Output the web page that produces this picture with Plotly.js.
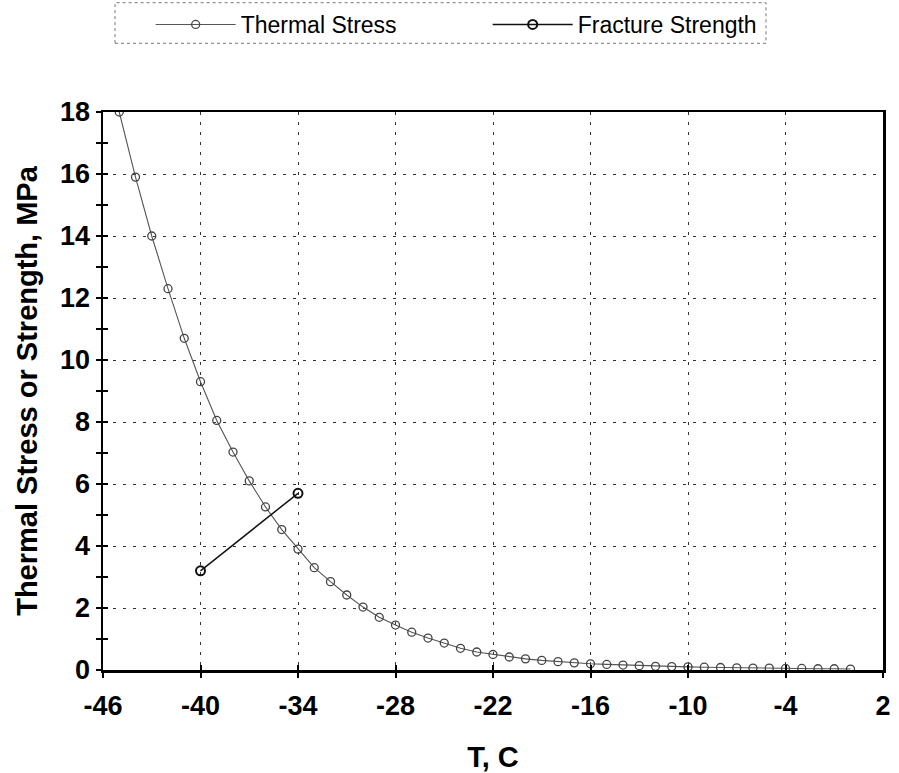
<!DOCTYPE html>
<html>
<head>
<meta charset="utf-8">
<script src="https://cdn.plot.ly/plotly-3.0.1.min.js"></script>
<style>html,body{margin:0;padding:0;background:#fff;}#chart{width:899px;height:773px;}</style>
</head>
<body>
<div id="chart"></div>
<script>
// Temperature, C
var temperature = [-45,-44,-43,-42,-41,-40,-39,-38,-37,-36,-35,-34,-33,-32,-31,-30,-29,-28,-27,-26,-25,-24,-23,-22,-21,-20,-19,-18,-17,-16,-15,-14,-13,-12,-11,-10,-9,-8,-7,-6,-5,-4,-3,-2,-1,0];
// Thermal stress, MPa
var thermalStress = [18.0,15.9,14.0,12.3,10.7,9.3,8.05,7.03,6.1,5.26,4.53,3.9,3.3,2.85,2.42,2.03,1.7,1.45,1.22,1.03,0.87,0.7,0.58,0.5,0.42,0.36,0.31,0.27,0.23,0.2,0.18,0.16,0.14,0.12,0.11,0.1,0.09,0.08,0.07,0.06,0.06,0.05,0.05,0.04,0.04,0.03];
// Fracture strength
var strengthT = [-40,-34];
var fractureStrength = [3.2,5.7];
// Axis ticks
var xTicks = [-46,-40,-34,-28,-22,-16,-10,-4,2];
var yTicks = [0,2,4,6,8,10,12,14,16,18];
var yMinorTicks = [1,3,5,7,9,11,13,15,17];
var xRange = [-46, 2];
var yRange = [0, 18];

var fontFam = '"Liberation Sans", Arial, sans-serif';

var traces = [
  {x: temperature, y: thermalStress, name: 'Thermal Stress', type: 'scatter', mode: 'lines+markers',
   line: {color: '#555', width: 1.1},
   marker: {symbol: 'circle-open', size: 8, color: '#444', line: {width: 1.3}}},
  {x: strengthT, y: fractureStrength, name: 'Fracture Strength', type: 'scatter', mode: 'lines+markers',
   line: {color: '#111', width: 1.5},
   marker: {symbol: 'circle-open', size: 9, color: '#111', line: {width: 2}}},
  // empty trace so the inner tick axes are drawn
  {x: [], y: [], xaxis: 'x2', yaxis: 'y2', showlegend: false, hoverinfo: 'skip', type: 'scatter'}
];

var gridStyle = {showgrid: true, gridcolor: '#333', griddash: '3px,7px', gridwidth: 1};

var layout = {
  width: 899, height: 773,
  margin: {l: 103, r: 16, t: 112, b: 103, autoexpand: false},
  paper_bgcolor: '#fff', plot_bgcolor: '#fff',
  showlegend: true,
  legend: {orientation: 'h', xref: 'container', yref: 'container', x: 0.1676, xanchor: 'left', y: 0.9961, yanchor: 'top',
    font: {family: fontFam, size: 23, color: '#000'}, bgcolor: 'rgba(0,0,0,0)',
    borderwidth: 0, itemwidth: 80, entrywidth: 242, entrywidthmode: 'pixels', traceorder: 'normal'},
  xaxis: Object.assign({
    range: xRange, tickvals: xTicks, ticktext: xTicks.map(String),
    showline: true, linecolor: '#000', linewidth: 2.5, mirror: true,
    ticks: 'outside', ticklen: 5, tickwidth: 2, tickcolor: '#000',
    ticklabelstandoff: 5,
    zeroline: false,
    tickfont: {family: fontFam, size: 27, color: '#000', weight: 'bold'},
    title: {text: '<b>T, C</b>', font: {family: fontFam, size: 29, color: '#000'}, standoff: 28}
  }, gridStyle),
  yaxis: Object.assign({
    range: yRange, tickvals: yTicks, ticktext: yTicks.map(String),
    showline: true, linecolor: '#000', linewidth: 2.5, mirror: true,
    ticks: 'outside', ticklen: 5, tickwidth: 2, tickcolor: '#000',
    minor: {tickvals: yMinorTicks, ticks: 'outside', ticklen: 5, tickwidth: 2, tickcolor: '#000', showgrid: false},
    zeroline: false,
    tickfont: {family: fontFam, size: 27, color: '#000', weight: 'bold'},
    title: {text: '<b>Thermal Stress or Strength, MPa</b>', font: {family: fontFam, size: 29, color: '#000'}, standoff: 14}
  }, gridStyle),
  xaxis2: {overlaying: 'x', anchor: 'y', side: 'bottom', range: xRange, tickvals: xTicks,
    showticklabels: false, showgrid: false, zeroline: false, showline: false,
    ticks: 'inside', ticklen: 5, tickwidth: 2, tickcolor: '#000'},
  yaxis2: {overlaying: 'y', anchor: 'x', side: 'left', range: yRange, tickvals: yTicks,
    showticklabels: false, showgrid: false, zeroline: false, showline: false,
    ticks: 'inside', ticklen: 5, tickwidth: 2, tickcolor: '#000',
    minor: {tickvals: yMinorTicks, ticks: 'inside', ticklen: 5, tickwidth: 2, tickcolor: '#000', showgrid: false}},
  shapes: [
    {type: 'rect', xref: 'paper', yref: 'paper', x0: 0.0154, x1: 0.850, y0: 1.1231, y1: 1.1959,
     line: {color: '#777', width: 1, dash: 'dot'}, fillcolor: 'rgba(0,0,0,0)'}
  ]
};

Plotly.newPlot('chart', traces, layout, {staticPlot: true, displayModeBar: false});
</script>
</body>
</html>
